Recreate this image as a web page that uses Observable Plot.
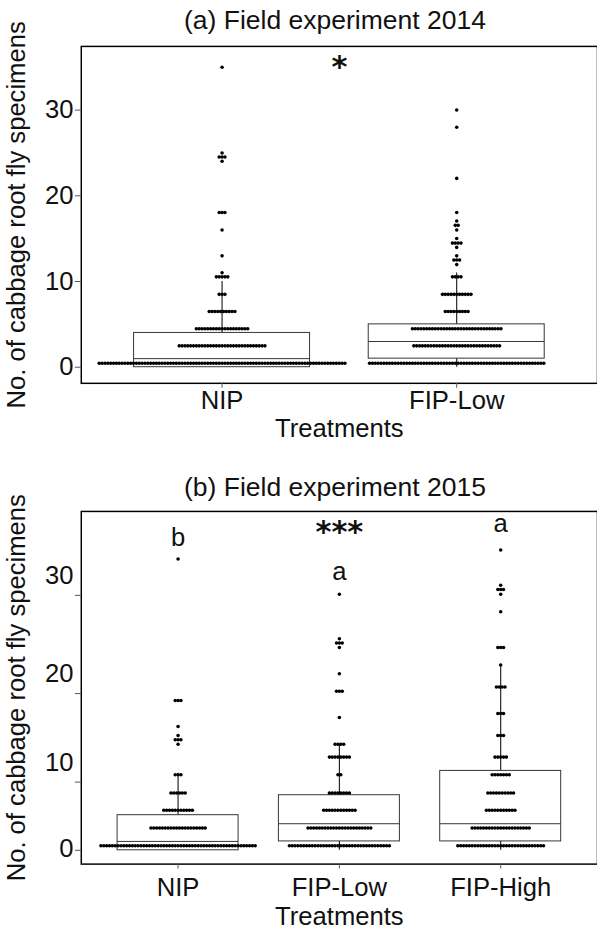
<!DOCTYPE html>
<html>
<head>
<meta charset="utf-8">
<script src="https://cdn.jsdelivr.net/npm/d3@7"></script>
<script src="https://cdn.jsdelivr.net/npm/@observablehq/plot@0.6"></script>
<style>
  html, body { margin: 0; padding: 0; background: #fff; }
  body { width: 597px; height: 931px; overflow: hidden; font-family: "Liberation Sans", Arial, sans-serif; }
  #root { position: relative; width: 597px; height: 931px; }
  .title { position: absolute; left: 0; width: 670px; text-align: center; font-size: 26.5px; color: #111; height: 40px; line-height: 40px; }
  .panel { position: absolute; left: 0; }
</style>
</head>
<body>
<div id="root">
  <div class="title" id="titleA" style="top:0px"></div>
  <div class="panel" id="panelA" style="top:40px"></div>
  <div class="title" id="titleB" style="top:467px"></div>
  <div class="panel" id="panelB" style="top:507px"></div>
</div>
<script>
// ---------- data ----------
const titleA = "(a) Field experiment 2014";
const titleB = "(b) Field experiment 2015";
const yLabel = "No. of cabbage root fly specimens";
const xLabel = "Treatments";
const categoriesA = ["NIP", "FIP-Low"];
const categoriesB = ["NIP", "FIP-Low", "FIP-High"];
const yTicks = [0, 10, 20, 30];

// dot stacks: [value, number of dots in the stack]
const stacksA_NIP = [[0.46,87],[2.49,31],[4.48,19],[6.51,10],[8.5,3],[10.54,5],[11.03,1],[12.99,1],[16.02,1],[18.05,3],[24.02,1],[24.52,3],[25.0,1],[35.0,1]];
const stacksA_FIPLow = [[0.46,62],[2.49,31],[4.48,32],[6.51,9],[8.5,11],[10.54,4],[11.97,1],[12.5,3],[12.99,1],[13.98,1],[14.48,4],[15.02,1],[16.02,1],[16.55,2],[17.05,1],[18.05,1],[22.03,1],[28.0,1],[30.0,1]];
const stacksB_NIP = [[1.06,55],[3.94,20],[6.42,11],[8.66,6],[10.88,3],[14.44,1],[14.95,3],[15.43,1],[16.43,1],[19.27,3],[33.53,1]];
const stacksB_FIPLow = [[1.06,36],[3.94,23],[6.42,12],[8.66,8],[10.88,2],[12.97,8],[14.44,4],[17.43,1],[20.24,3],[22.08,1],[24.79,1],[25.26,3],[25.69,1],[30.10,1]];
const stacksB_FIPHigh = [[1.06,31],[3.94,21],[6.42,11],[8.66,10],[10.88,7],[12.97,5],[15.43,3],[17.86,3],[20.7,4],[23.0,1],[24.79,3],[28.38,1],[30.10,1],[30.58,3],[30.99,1],[34.38,1]];

// box statistics per category
const q1A = [0, 1], medA = [1, 3], q3A = [4, 5], loA = [0, 0], hiA = [10, 11];
const q1B = [0, 1.83, 1.83], medB = [1.83, 4.56, 4.56], q3B = [5.75, 8.37, 11.35], loB = [0, 0, 0], hiB = [11.07, 14.44, 23.0];

// significance annotations
const notesA_text = ["*"], notesA_x = [0.5], notesA_y = [35.0];
const notesB_text = ["b", "***", "a", "a"], notesB_x = [0, 1, 1, 2], notesB_y = [35.54, 36.04, 32.3, 36.83];

// ---------- drawing ----------
const WIDTH = 606, ML = 82, MR = 0;
const DOT_GAP = 2.9, DOT_R = 1.8;

function buildPanel(cfg) {
  const n = cfg.cats.length;
  const xDomain = [-0.6, n - 1 + 0.6];
  const step = (WIDTH - ML - MR) / (xDomain[1] - xDomain[0]);
  const dots = [];
  cfg.stacks.forEach((rows, i) => rows.forEach(([v, c]) => {
    for (let k = 0; k < c; k++) dots.push({x: i + (k - (c - 1) / 2) * DOT_GAP / step, y: v});
  }));
  const boxes = cfg.cats.map((c, i) => ({i, q1: cfg.q1[i], med: cfg.med[i], q3: cfg.q3[i], lo: cfg.lo[i], hi: cfg.hi[i]}));
  const notes = cfg.notesText.map((t, j) => ({t, x: cfg.notesX[j], y: cfg.notesY[j]}));
  return Plot.plot({
    width: WIDTH, height: cfg.height,
    marginLeft: ML, marginRight: MR, marginTop: cfg.marginTop, marginBottom: cfg.marginBottom,
    style: {fontFamily: "Liberation Sans, Arial, sans-serif", background: "white", overflow: "visible"},
    x: {domain: xDomain},
    y: cfg.y,
    marks: [
      Plot.ruleX(boxes, {x: "i", y1: "lo", y2: "hi", stroke: "#111", strokeWidth: 1.1}),
      Plot.rect(boxes, {x1: d => d.i - 0.375, x2: d => d.i + 0.375, y1: "q1", y2: "q3", fill: "white", stroke: "#333", strokeWidth: 1}),
      Plot.ruleY(boxes, {y: "med", x1: d => d.i - 0.375, x2: d => d.i + 0.375, stroke: "#333", strokeWidth: 1}),
      Plot.dot(dots, {x: "x", y: "y", r: DOT_R, fill: "black"}),
      Plot.frame({stroke: "black", strokeWidth: 1.5}),
      Plot.axisX({ticks: d3.range(n), tickFormat: i => cfg.cats[i], tickSize: 5, tickPadding: cfg.xPad, stroke: "#555", fill: "#111", fontSize: 26,
        label: null}),
      Plot.axisX({ticks: [], tickSize: 0, fill: "#111", fontSize: 26,
        label: xLabel, labelAnchor: "center", labelOffset: cfg.xLabelOffset, labelArrow: "none"}),
      ...cfg.yAxes,
      Plot.text(notes.filter(d => d.t.includes("*")), {x: "x", y: "y", text: "t", fontSize: 31, fontWeight: "bold", fontFamily: "DejaVu Sans", fill: "#111", lineAnchor: "middle"}),
      Plot.text(notes.filter(d => !d.t.includes("*")), {x: "x", y: "y", text: "t", fontSize: 26, fill: "#111", lineAnchor: "middle"})
    ]
  });
}

document.getElementById("titleA").textContent = titleA;
document.getElementById("titleB").textContent = titleB;

const panelA = buildPanel({
  cats: categoriesA, stacks: [stacksA_NIP, stacksA_FIPLow],
  q1: q1A, med: medA, q3: q3A, lo: loA, hi: hiA,
  y: {type: "linear", domain: [-1.88, 37.43]},
  height: 408, marginTop: 6, marginBottom: 60, xPad: 3, xLabelOffset: 54,
  notesText: notesA_text, notesX: notesA_x, notesY: notesA_y,
  yAxes: [
    Plot.axisY({ticks: yTicks, tickSize: 6, tickPadding: 2, stroke: "#555", fill: "#111", fontSize: 26,
      label: yLabel, labelAnchor: "center", labelOffset: 76, labelArrow: "none"})
  ]
});
document.getElementById("panelA").appendChild(panelA);

const panelB = buildPanel({
  cats: categoriesB, stacks: [stacksB_NIP, stacksB_FIPLow, stacksB_FIPHigh],
  q1: q1B, med: medB, q3: q3B, lo: loB, hi: hiB,
  y: {type: "pow", exponent: 1.2, domain: [-2.64, 38.03]},
  height: 424, marginTop: 4, marginBottom: 62, xPad: 9, xLabelOffset: 62,
  notesText: notesB_text, notesX: notesB_x, notesY: notesB_y,
  yAxes: [
    Plot.axisY({ticks: yTicks, tickSize: 6, tickFormat: () => "", stroke: "#555", label: null}),
    Plot.axisY([10, 20, 30], {tickSize: 0, tickPadding: 8, dy: -20, fill: "#111", fontSize: 26, label: null}),
    Plot.axisY([0], {tickSize: 0, tickPadding: 8, dy: -2, fill: "#111", fontSize: 26,
      label: yLabel, labelAnchor: "center", labelOffset: 76, labelArrow: "none"})
  ]
});
document.getElementById("panelB").appendChild(panelB);
</script>
</body>
</html>
